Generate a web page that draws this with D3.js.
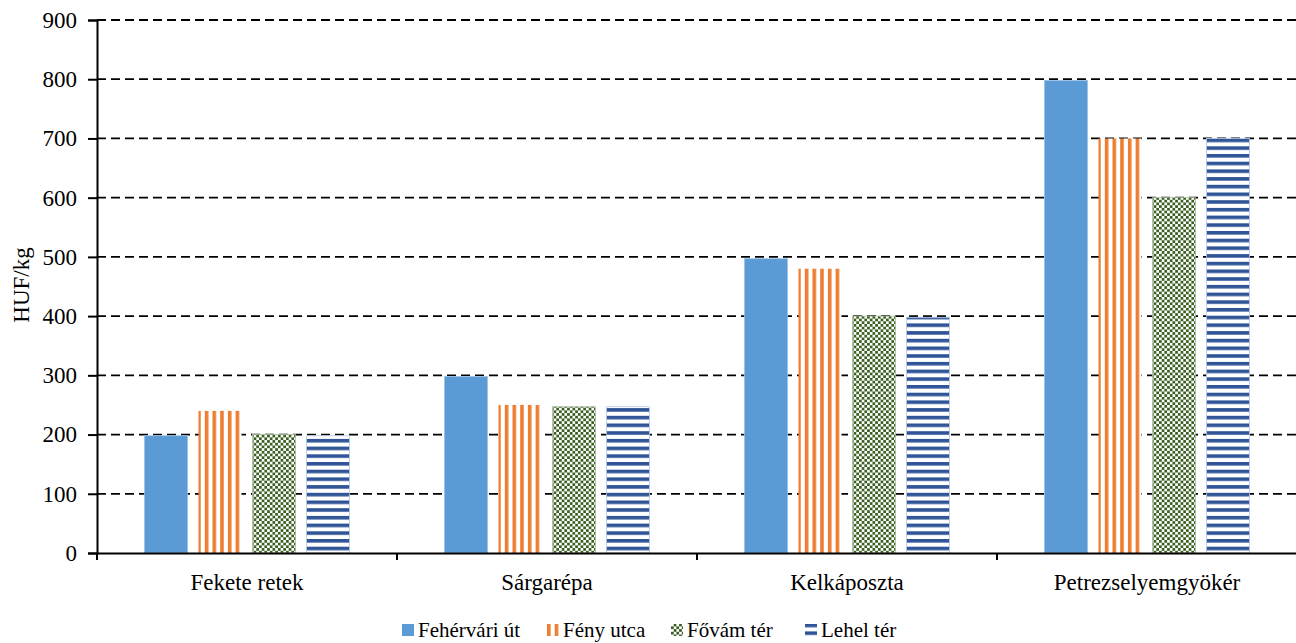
<!DOCTYPE html>
<html>
<head>
<meta charset="utf-8">
<script src="https://cdn.jsdelivr.net/npm/d3@7"></script>
<style>
  html, body { margin: 0; padding: 0; background: #fff; }
  svg { display: block; }
</style>
</head>
<body>
<svg id="chart" width="1296" height="643"></svg>
<script>
const categories = ["Fekete retek", "Sárgarépa", "Kelkáposzta", "Petrezselyemgyökér"];
const seriesNames = ["Fehérvári út", "Fény utca", "Fővám tér", "Lehel tér"];
const fehervari = [198, 298, 497, 798];
const fenyUtca = [240, 250, 480, 700];
const fovamTer = [200, 247, 400, 600];
const lehelTer = [198, 247, 398, 700];
const yTicks = [0, 100, 200, 300, 400, 500, 600, 700, 800, 900];
const yTitle = "HUF/kg";

const FONT = "'Liberation Serif', 'Times New Roman', serif";
const seriesValues = [fehervari, fenyUtca, fovamTer, lehelTer];
const fills = ["url(#solidBlue)", "url(#vStripe)", "url(#checker)", "url(#hStripe)"];
const edges = ["#9DC3E6", "none", "#A9BF9A", "#B4C7E7"];

const svg = d3.select("#chart").style("font-family", FONT);
const defs = svg.append("defs");

// Patterns
const pv = defs.append("pattern").attr("id", "vStripe").attr("patternUnits", "userSpaceOnUse")
  .attr("width", 7.7).attr("height", 10);
pv.append("rect").attr("width", 7.7).attr("height", 10).attr("fill", "#fff");
pv.append("rect").attr("x", 0).attr("width", 3.6).attr("height", 10).attr("fill", "#ED7D31");

const ph = defs.append("pattern").attr("id", "hStripe").attr("patternUnits", "userSpaceOnUse")
  .attr("width", 10).attr("height", 7.7);
ph.append("rect").attr("width", 10).attr("height", 7.7).attr("fill", "#fff");
ph.append("rect").attr("y", 0).attr("width", 10).attr("height", 3.6).attr("fill", "#2F5597");

const pc = defs.append("pattern").attr("id", "checker").attr("patternUnits", "userSpaceOnUse")
  .attr("width", 5.4).attr("height", 5.4);
pc.append("rect").attr("width", 5.4).attr("height", 5.4).attr("fill", "#fff");
pc.append("rect").attr("x", 0).attr("y", 0).attr("width", 2.7).attr("height", 2.7).attr("fill", "#3B5E22");
pc.append("rect").attr("x", 2.7).attr("y", 2.7).attr("width", 2.7).attr("height", 2.7).attr("fill", "#3B5E22");

const ps = defs.append("pattern").attr("id", "solidBlue").attr("patternUnits", "userSpaceOnUse")
  .attr("width", 10).attr("height", 10);
ps.append("rect").attr("width", 10).attr("height", 10).attr("fill", "#5B9BD5");

// Scales
const y = d3.scaleLinear().domain([0, 900]).range([553, 20]);
const x = d3.scaleBand().domain(categories).range([97, 1297]).paddingInner(0).paddingOuter(0);
const xs = d3.scaleBand().domain(seriesNames).range([47.5, 252.5]).paddingInner(11 / 54).paddingOuter(0);

// Gridlines (behind bars)
svg.append("g").selectAll("line").data(yTicks.filter(d => d > 0)).join("line")
  .attr("x1", 97).attr("x2", 1296)
  .attr("y1", d => y(d)).attr("y2", d => y(d))
  .attr("stroke", "#000").attr("stroke-width", 1.8).attr("stroke-dasharray", "9,5");

// Bars
const groups = svg.append("g").selectAll("g").data(categories).join("g")
  .attr("transform", c => `translate(${x(c)},0)`);
groups.each(function(c, ci) {
  d3.select(this).selectAll("rect").data(seriesNames).join("rect")
    .attr("x", s => xs(s))
    .attr("width", xs.bandwidth())
    .attr("y", (s, si) => y(seriesValues[si][ci]))
    .attr("height", (s, si) => y(0) - y(seriesValues[si][ci]))
    .attr("fill", (s, si) => fills[si])
    .attr("stroke", (s, si) => edges[si])
    .attr("stroke-width", 0.8);
});

// Y axis
const yAxis = d3.axisLeft(y).tickValues(yTicks).tickSize(9).tickPadding(11).tickFormat(d3.format("d"));
const gy = svg.append("g").attr("transform", "translate(97,0)").call(yAxis)
  .attr("font-family", null).attr("font-size", null);
gy.select(".domain").attr("stroke", "#000").attr("stroke-width", 2);
gy.selectAll(".tick line").attr("stroke", "#000").attr("stroke-width", 2);
gy.selectAll(".tick text").style("font-family", FONT).style("font-size", "23px").attr("fill", "#000");

// X axis
const xAxis = d3.axisBottom(x).tickSize(0).tickPadding(0);
const gx = svg.append("g").attr("transform", "translate(0,553)").call(xAxis)
  .attr("font-family", null).attr("font-size", null);
gx.select(".domain").attr("stroke", "#000").attr("stroke-width", 2);
gx.selectAll(".tick text").style("font-family", FONT).style("font-size", "23px").attr("fill", "#000")
  .attr("dy", null).attr("y", 37);
// category boundary tick marks
const bounds = categories.map(c => x(c)).concat([x(categories[categories.length - 1]) + x.bandwidth()]);
gx.append("g").selectAll("line").data(bounds).join("line")
  .attr("x1", d => d).attr("x2", d => d).attr("y1", 0).attr("y2", 7)
  .attr("stroke", "#000").attr("stroke-width", 2);

// Y title
svg.append("text")
  .attr("transform", "translate(29,285) rotate(-90)")
  .attr("text-anchor", "middle")
  .style("font-family", FONT).style("font-size", "23px")
  .text(yTitle);

// Legend
const legendX = [402, 547, 671, 805];
const legend = svg.append("g");
seriesNames.forEach((s, i) => {
  const g = legend.append("g").attr("transform", `translate(${legendX[i]},0)`);
  g.append("rect").attr("x", 0).attr("y", 624).attr("width", 12).attr("height", 12).attr("fill", fills[i]);
  g.append("text").attr("x", 16).attr("y", 637)
    .style("font-family", FONT).style("font-size", "21px").text(s);
});
</script>
</body>
</html>
